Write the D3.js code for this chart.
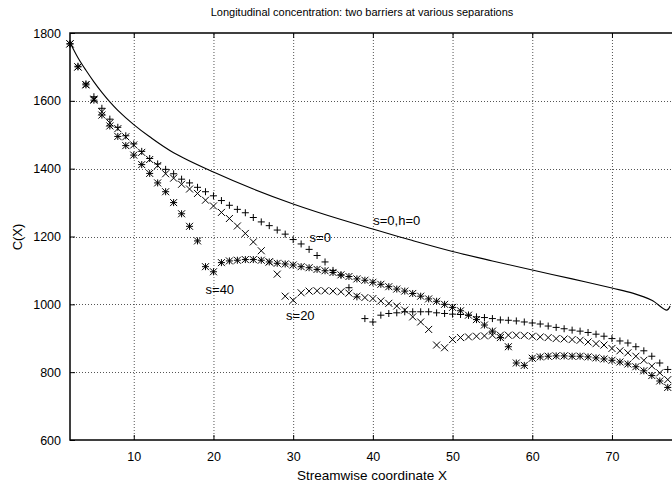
<!DOCTYPE html>
<html><head><meta charset="utf-8">
<script src="https://cdn.jsdelivr.net/npm/d3@7"></script>
<style>
body{margin:0;background:#fff;}
svg text{font-family:"Liberation Sans",Arial,Helvetica,sans-serif;fill:#000;}
</style></head>
<body><svg id="c" width="672" height="484"></svg>
<script>
const title = "Longitudinal concentration: two barriers at various separations";
const xLabel = "Streamwise coordinate X";
const yLabel = "C(X)";
const xTicks = [10,20,30,40,50,60,70];
const yTicks = [600,800,1000,1200,1400,1600,1800];

const xs = [2,3,4,5,6,7,8,9,10,11,12,13,14,15,16,17,18,19,20,21,22,23,24,25,26,27,28,29,30,31,32,33,34,35,36,37,38,39,40,41,42,43,44,45,46,47,48,49,50,51,52,53,54,55,56,57,58,59,60,61,62,63,64,65,66,67,68,69,70,71,72,73,74,75,76,77];

const s0 = [1768,1702,1650,1612,1578,1546,1522,1497,1473,1451,1430,1414,1398,1385,1369,1358,1345,1332,1320,1306,1292,1280,1270,1256,1243,1232,1219,1207,1191,1178,1162,1144,1125,1100,1086,1049,1022,958,948,968,973,975,978,978,978,978,975,973,971,970,968,963,961,958,954,953,951,948,945,942,936,932,928,924,921,917,912,906,899,892,886,875,863,847,827,808];

const s20 = [1768,1700,1648,1605,1568,1535,1518,1494,1470,1448,1427,1409,1385,1372,1354,1340,1327,1307,1290,1271,1253,1231,1209,1184,1158,1125,1089,1024,1012,1034,1039,1040,1040,1039,1037,1033,1024,1020,1017,1010,1003,995,983,963,948,926,880,872,896,902,904,906,907,909,909,909,909,908,906,904,902,899,898,896,894,889,884,880,870,863,857,847,835,818,798,778];

const s40 = [1768,1700,1647,1602,1558,1526,1495,1468,1440,1412,1386,1358,1332,1300,1267,1230,1187,1111,1096,1123,1128,1130,1132,1132,1130,1125,1121,1119,1116,1111,1108,1103,1099,1094,1087,1082,1075,1071,1065,1059,1052,1045,1039,1032,1024,1016,1009,1000,991,981,968,955,939,921,902,875,827,820,841,845,847,848,848,847,847,845,842,839,835,830,824,816,804,790,774,755];

const curveX = [2,3,4,5,6,7,8,10,12,15,20,25,30,36,40,45,50,55,60,65,70,72.6,75,76.9,77.3];
const curveY = [1772,1727,1690,1656,1625,1597,1572,1530,1494,1447,1390,1340,1296,1250,1222,1188,1156,1128,1101,1075,1048,1033,1012,983,995];

const seriesLabels = [
  {text:"s=0,h=0", x:43.0, y:1246},
  {text:"s=0", x:33.4, y:1198},
  {text:"s=40", x:20.8, y:1045},
  {text:"s=20", x:30.9, y:968}
];

const W=672,H=484;
const x = d3.scaleLinear().domain([2,78]).range([70,70+76*7.97]);
const y = d3.scaleLinear().domain([600,1800]).range([440,33]);
const svg = d3.select("#c");

// grid
const g = svg.append("g");
g.selectAll(".gx").data(xTicks).enter().append("line")
  .attr("x1",d=>x(d)+0.5).attr("x2",d=>x(d)+0.5).attr("y1",y(600)).attr("y2",y(1800))
  .attr("stroke","#555").attr("stroke-width",1).attr("stroke-dasharray","1,2");
g.selectAll(".gy").data(yTicks.filter(d=>d>600&&d<1800)).enter().append("line")
  .attr("y1",d=>Math.round(y(d))+0.5).attr("y2",d=>Math.round(y(d))+0.5).attr("x1",x(2)).attr("x2",W)
  .attr("stroke","#555").attr("stroke-width",1).attr("stroke-dasharray","1,2");

// axes via d3
const xAxis = d3.axisBottom(x).tickValues(xTicks).tickSize(-5).tickPadding(12).tickFormat(d3.format("d"));
const yAxis = d3.axisLeft(y).tickValues(yTicks).tickSize(-5).tickPadding(9).tickFormat(d3.format("d"));
const gx = svg.append("g").attr("transform",`translate(0,${y(600)})`).call(xAxis);
const gy = svg.append("g").attr("transform",`translate(${x(2)},0)`).call(yAxis);
[gx,gy].forEach(a=>{
  a.select(".domain").remove();
  a.selectAll("line").attr("stroke","#000");
  a.selectAll("text").attr("font-size","12.5px").style("font-family",'"Liberation Sans",Arial,sans-serif');
});
svg.append("g").attr("transform",`translate(0,${y(1800)})`).call(d3.axisTop(x).tickValues(xTicks).tickSize(-5).tickFormat(""))
  .call(a=>{a.select(".domain").remove();a.selectAll("line").attr("stroke","#000");});

// frame
svg.append("rect").attr("x",x(2)).attr("y",y(1800)).attr("width",x(78)-x(2)).attr("height",y(600)-y(1800))
  .attr("fill","none").attr("stroke","#000").attr("stroke-width",1.5);

svg.append("clipPath").attr("id","cp").append("rect").attr("x",x(2)-6).attr("y",y(1800)-6).attr("width",W).attr("height",y(600)-y(1800)+12);
const pg = svg.append("g").attr("clip-path","url(#cp)");

const line = d3.line().x(d=>x(d[0])).y(d=>y(d[1])).curve(d3.curveCatmullRom.alpha(0.5));
pg.append("path").datum(curveX.map((v,i)=>[v,curveY[i]])).attr("d",line)
  .attr("fill","none").attr("stroke","#000").attr("stroke-width",1.1);

const r=3.5;
const plus = `M${-r},0H${r}M0,${-r}V${r}`;
const cross = `M${-r},${-r}L${r},${r}M${-r},${r}L${r},${-r}`;
function drawSeries(vals, pathStr){
  pg.append("g").selectAll("path").data(xs.map((v,i)=>[v,vals[i]])).enter().append("path")
    .attr("transform",d=>`translate(${x(d[0])},${y(d[1])})`)
    .attr("d",pathStr).attr("stroke","#000").attr("stroke-width",1).attr("fill","none");
}
drawSeries(s0, plus);
drawSeries(s20, cross);
drawSeries(s40, plus+cross);

svg.selectAll(".sl").data(seriesLabels).enter().append("text")
  .attr("x",d=>x(d.x)).attr("y",d=>y(d.y)).attr("text-anchor","middle").attr("dy","0.35em")
  .attr("font-size","13px").text(d=>d.text);

svg.append("text").attr("x",362).attr("y",16).attr("text-anchor","middle").attr("font-size","11px").text(title);
svg.append("text").attr("x",372).attr("y",480).attr("text-anchor","middle").attr("font-size","13.5px").text(xLabel);
svg.append("text").attr("transform","translate(22,237) rotate(-90)").attr("text-anchor","middle").attr("font-size","13px").text(yLabel);
</script></body></html>
